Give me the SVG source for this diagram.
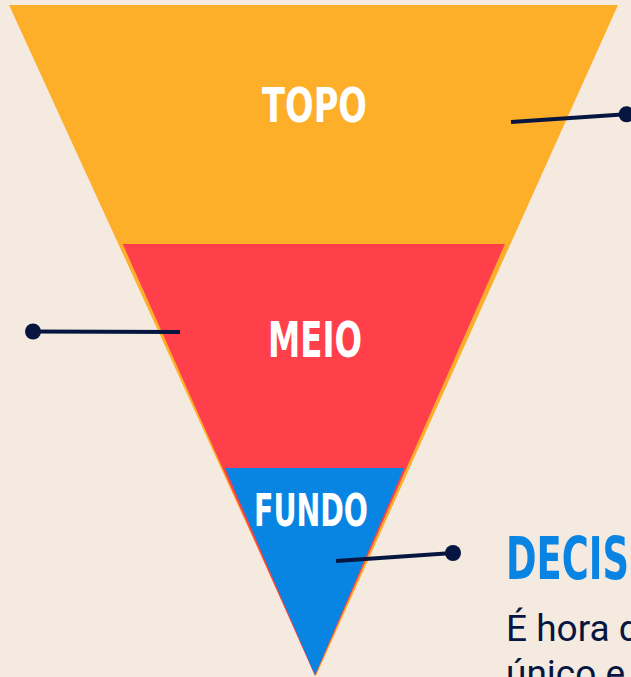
<svg xmlns="http://www.w3.org/2000/svg" width="631" height="677" viewBox="0 0 631 677">
  <defs>
    <style>
      .lbl { font-family: "DejaVu Sans Condensed", "DejaVu Sans", sans-serif; font-weight: bold; fill: #ffffff; }
      .head { font-family: "DejaVu Sans Condensed", "DejaVu Sans", sans-serif; font-weight: bold; fill: #0a84e2; }
      .body { font-family: Roboto, "Liberation Sans", sans-serif; fill: #071641; }
      .conn { stroke: #071641; stroke-width: 4; fill: none; }
      .dot { fill: #071641; }
    </style>
  </defs>
  <rect x="0" y="0" width="631" height="677" fill="#f5eae0"/>

  <g id="topo">
    <polygon points="9,5 618,5 316,676" fill="#feaf2a"/>
    <text class="lbl" x="314.5" y="122" font-size="48" text-anchor="middle" textLength="105" lengthAdjust="spacingAndGlyphs">TOPO</text>
  </g>

  <g id="meio">
    <polygon points="122.7,244 505,244 315,676" fill="#ff3f4a"/>
    <text class="lbl" x="315" y="357" font-size="50" text-anchor="middle" textLength="94" lengthAdjust="spacingAndGlyphs">MEIO</text>
  </g>

  <g id="fundo">
    <polygon points="225,468 404,468 315,675" fill="#0884e2"/>
    <text class="lbl" x="311" y="526" font-size="45" text-anchor="middle" textLength="114" lengthAdjust="spacingAndGlyphs">FUNDO</text>
  </g>

  <g id="connectors">
    <line class="conn" x1="511" y1="122" x2="626" y2="114.3"/>
    <circle class="dot" cx="626.5" cy="114.3" r="8"/>
    <line class="conn" x1="33" y1="331.5" x2="180" y2="332"/>
    <circle class="dot" cx="33" cy="331.5" r="8"/>
    <line class="conn" x1="336" y1="561" x2="453" y2="553"/>
    <circle class="dot" cx="453" cy="553" r="8"/>
  </g>

  <g id="decisao">
    <text class="head" x="506" y="579" font-size="58" textLength="123" lengthAdjust="spacingAndGlyphs">DECIS</text>
    <text class="body" x="506" y="640.5" font-size="37">É hora d</text>
    <text class="body" x="506" y="686" font-size="37">único e</text>
  </g>
</svg>
